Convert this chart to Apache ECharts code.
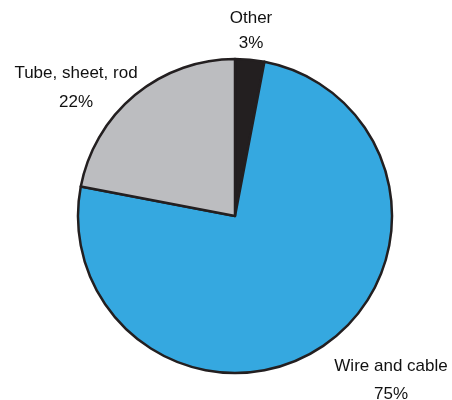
<!DOCTYPE html>
<html>
<head>
<meta charset="utf-8">
<script src="https://cdn.jsdelivr.net/npm/echarts@6/dist/echarts.min.js"></script>
<style>
  html, body { margin: 0; padding: 0; background: #fff; }
  #chart { width: 452px; height: 400px; }
</style>
</head>
<body>
<div id="chart"></div>
<script>
// data
var categories = ['Other', 'Wire and cable', 'Tube, sheet, rod'];
var shares = [3, 75, 22];
var colors = ['#231f20', '#35a8e0', '#bcbdc0'];

// where each label sits (centre of the text block)
var labelSpots = [[251, 31], [391, 380], [76, 88]];
var labelGaps = [25, 28, 29];

var pieData = [];
for (var i = 0; i < categories.length; i++) {
    pieData.push({
        name: categories[i],
        value: shares[i],
        itemStyle: { color: colors[i] },
        label: { lineHeight: labelGaps[i] }
    });
}

var myChart = echarts.init(document.getElementById('chart'));
var option = {
    animation: false,
    series: [
        {
            type: 'pie',
            center: [235, 216],
            radius: 157,
            startAngle: 90,
            clockwise: true,
            data: pieData,
            itemStyle: {
                borderColor: '#231f20',
                borderWidth: 2.5
            },
            label: {
                show: true,
                position: 'outside',
                formatter: '{b}\n{d}%',
                fontFamily: '"Liberation Sans Narrow", "Arial Narrow", "Liberation Sans", Arial, sans-serif',
                fontSize: 17,
                color: '#111',
                align: 'center',
                overflow: 'none',
                width: 200
            },
            labelLine: { show: false },
            labelLayout: function (params) {
                var p = labelSpots[params.dataIndex];
                return { x: p[0], y: p[1], align: 'center', verticalAlign: 'middle' };
            }
        }
    ]
};
myChart.setOption(option);
</script>
</body>
</html>
